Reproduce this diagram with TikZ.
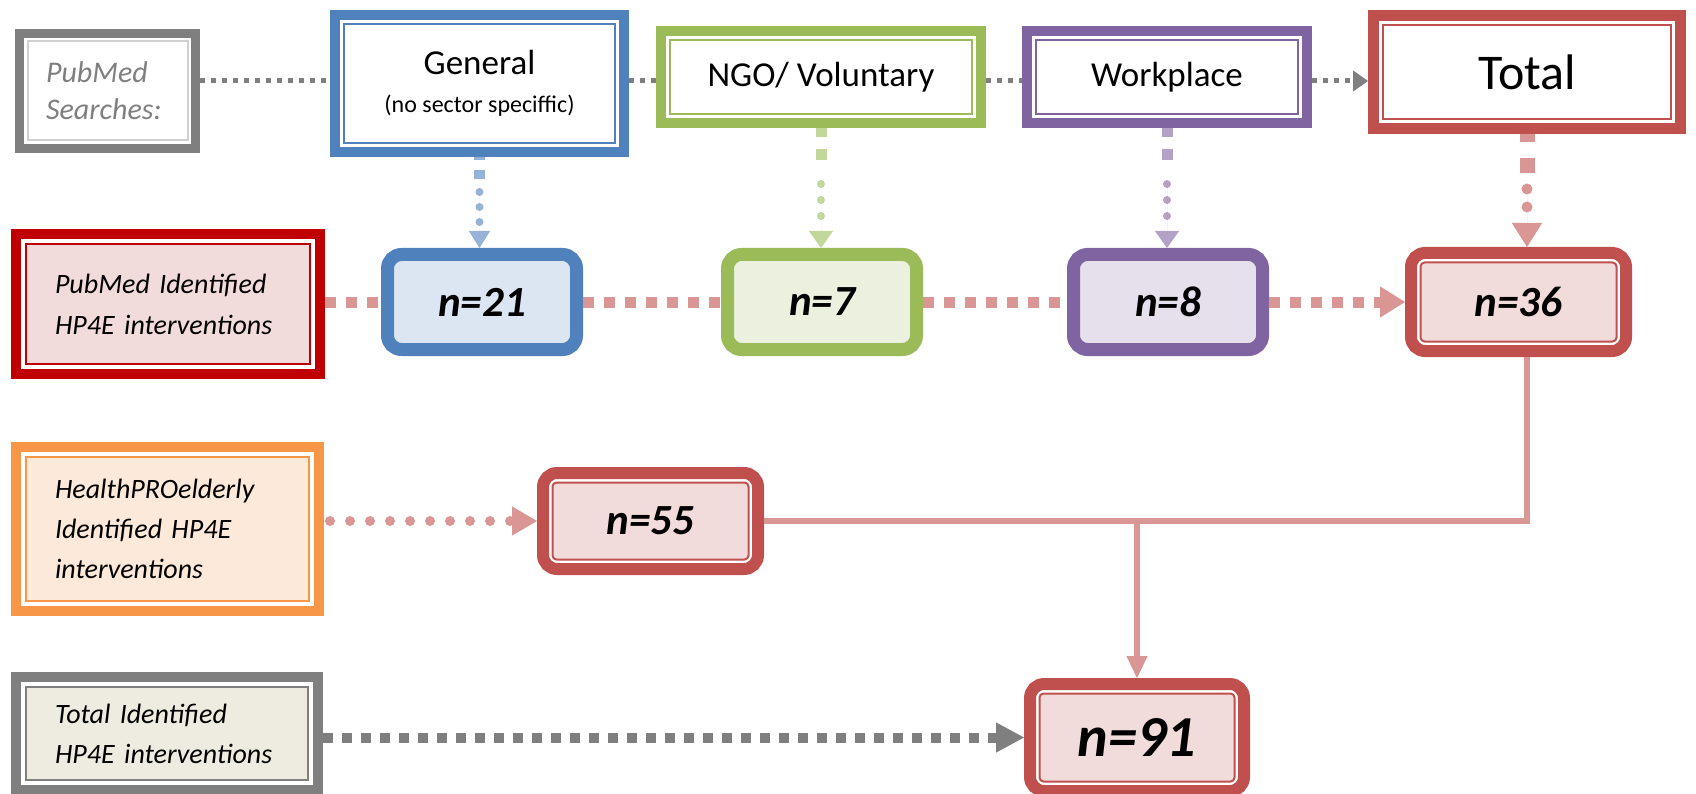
\documentclass[tikz,border=0pt]{standalone}
\usepackage{fontspec}
\setmainfont{Carlito}
\usetikzlibrary{arrows.meta,calc}
\definecolor{cblue}{HTML}{4F81BD}
\definecolor{cblueL}{HTML}{95B3D7}
\definecolor{cblueF}{HTML}{DCE6F2}
\definecolor{cgreen}{HTML}{9BBB59}
\definecolor{cgreenL}{HTML}{C3D69B}
\definecolor{cgreenF}{HTML}{EBF1DE}
\definecolor{cpurple}{HTML}{8064A2}
\definecolor{cpurpleL}{HTML}{B3A2C7}
\definecolor{cpurpleF}{HTML}{E5E0EC}
\definecolor{cred}{HTML}{C0504D}
\definecolor{cpinkL}{HTML}{D99694}
\definecolor{cpink}{HTML}{F2DCDB}
\definecolor{cdred}{HTML}{C00000}
\definecolor{corange}{HTML}{F79646}
\definecolor{corangeF}{HTML}{FDE9D9}
\definecolor{cgray}{HTML}{7F7F7F}
\definecolor{cgrayL}{HTML}{D0D0D0}
\definecolor{cbeige}{HTML}{EEECE1}
\tikzset{
  base/.style={rectangle, inner sep=0pt, align=center, text=black},
  dbox/.style n args={5}{base, draw=#1, line width=#2, fill=white,
    path picture={\filldraw[draw=#5, fill=#3, line width=2pt, sharp corners]
      ([shift={(#4,#4)}]path picture bounding box.south west) rectangle
      ([shift={(-#4,-#4)}]path picture bounding box.north east);}},
  nbox/.style n args={2}{base, rounded corners=14pt, draw=#1, line width=13pt, fill=#2,
    minimum width=189pt, minimum height=95pt,
    font=\fontsize{43}{50}\selectfont\bfseries\itshape},
  rdbox/.style={base, rounded corners=14pt, draw=cred, line width=12pt, fill=white,
    font=\fontsize{43}{50}\selectfont\bfseries\itshape,
    path picture={\filldraw[draw=cred, fill=cpink, line width=2pt, rounded corners=4pt]
      ([shift={(9.5pt,9.5pt)}]path picture bounding box.south west) rectangle
      ([shift={(-9.5pt,-9.5pt)}]path picture bounding box.north east);}},
  gdot/.style={draw=cgray, line width=5pt, dash pattern=on 5pt off 6pt},
  pdash/.style={draw=cpinkL, line width=11pt, dash pattern=on 11pt off 10pt},
}
\begin{document}
\begin{tikzpicture}[x=1pt,y=-1pt]
\useasboundingbox (0,0) rectangle (1696,794);
\coordinate (r1) at (0,81);

% row 1
\node[dbox={cgray}{9pt}{white}{8pt}{cgrayL}, minimum width=176pt, minimum height=115pt,
  text width=123pt, align=left, text=cgray, font=\fontsize{30}{37}\selectfont\itshape]
  (ps) at (107.5,91) {PubMed\\Searches:};
\node[dbox={cblue}{10pt}{white}{9pt}{cblue}, minimum width=289pt, minimum height=137pt,
  font=\fontsize{35}{38}\selectfont]
  (gen) at (479.5,83.5) {General\\{\fontsize{24}{38}\selectfont (no sector speciffic)}};
\node[dbox={cgreen}{10pt}{white}{9pt}{cgreen}, minimum width=320pt, minimum height=92pt,
  font=\fontsize{35}{42}\selectfont] (ngo) at (821,77) {NGO/ Voluntary};
\node[dbox={cpurple}{10pt}{white}{9pt}{cpurple}, minimum width=280pt, minimum height=92pt,
  font=\fontsize{35}{42}\selectfont] (wp) at (1167,77) {Workplace};
\node[dbox={cred}{11pt}{white}{9.5pt}{cred}, minimum width=307pt, minimum height=113pt,
  font=\fontsize{50}{60}\selectfont] (tot) at (1527,72) {Total};

% row 2
\node[dbox={cdred}{10pt}{cpink}{10pt}{cdred}, minimum width=304pt, minimum height=140pt,
  text width=226pt, align=left, font=\fontsize{28}{41}\selectfont\itshape]
  (pi) at (168,304) {PubMed Identified\\HP4E interventions};
\node[nbox={cblue}{cblueF}] (n21) at (482,302) {n=21};
\node[nbox={cgreen}{cgreenF}] (n7) at (822,302) {n=7};
\node[nbox={cpurple}{cpurpleF}] (n8) at (1168,302) {n=8};
\node[rdbox, minimum width=215pt, minimum height=98pt] (n36) at (1518.5,302) {n=36};

% row 3
\node[dbox={corange}{10pt}{corangeF}{10pt}{corange}, minimum width=303pt, minimum height=164pt,
  text width=225pt, align=left, font=\fontsize{28}{40}\selectfont\itshape]
  (hp) at (167.5,529) {HealthPROelderly\\Identified HP4E\\interventions};
\node[rdbox, minimum width=215pt, minimum height=96pt] (n55) at (650.5,521) {n=55};

% row 4
\node[dbox={cgray}{10pt}{cbeige}{10pt}{cgray}, minimum width=302pt, minimum height=113pt,
  text width=224pt, align=left, font=\fontsize{28}{40}\selectfont\itshape]
  (ti) at (167,733.5) {Total Identified\\HP4E interventions};
\node[rdbox, minimum width=214pt, minimum height=107pt,
  font=\fontsize{58}{66}\selectfont\bfseries\itshape] (n91) at (1137,737.5) {n=91};

% top gray dotted connectors
\draw[gdot] (ps.east |- r1) -- (gen.west |- r1);
\draw[gdot] (gen.east |- r1) -- (ngo.west |- r1);
\draw[gdot] (ngo.east |- r1) -- (wp.west |- r1);
\draw[gdot, -{Triangle[length=15pt,width=21pt,line width=1pt]}] (wp.east |- r1) -- (tot.west |- r1);

% vertical connectors
\draw[draw=cblueL, fill=cblueL, line width=8pt, line cap=round, dash pattern=on 0pt off 15pt, shorten <=35pt,
  -{Triangle[length=17pt,width=21pt,line width=1pt]},
  preaction={draw=cblueL, line width=11pt, line cap=butt, dash pattern=on 3pt off 10pt on 9pt off 1000pt, shorten <=0pt, arrows=-}]
  (gen.south) -- (gen.south |- n21.north);
\draw[draw=cgreenL, fill=cgreenL, line width=8pt, line cap=round, dash pattern=on 0pt off 16pt, shorten <=56pt,
  -{Triangle[length=17pt,width=24pt,line width=1pt]},
  preaction={draw=cgreenL, line width=11pt, line cap=butt, dash pattern=on 9pt off 12pt on 11pt off 1000pt, shorten <=0pt, arrows=-}]
  (ngo.south) -- (ngo.south |- n7.north);
\draw[draw=cpurpleL, fill=cpurpleL, line width=8pt, line cap=round, dash pattern=on 0pt off 16pt, shorten <=56pt,
  -{Triangle[length=17pt,width=24pt,line width=1pt]},
  preaction={draw=cpurpleL, line width=11pt, line cap=butt, dash pattern=on 9pt off 12pt on 11pt off 1000pt, shorten <=0pt, arrows=-}]
  (wp.south) -- (wp.south |- n8.north);
\draw[draw=cpinkL, fill=cpinkL, line width=11pt, line cap=round, dash pattern=on 0pt off 18pt, shorten <=55pt,
  -{Triangle[length=24pt,width=30pt,line width=1pt]},
  preaction={draw=cpinkL, line width=15pt, line cap=butt, dash pattern=on 8pt off 16pt on 15pt off 1000pt, shorten <=0pt, arrows=-}]
  (tot.south) -- (tot.south |- n36.north);

% row 2 pink connectors
\draw[pdash] (pi.east |- n21.west) -- (n21.west);
\draw[pdash] (n21.east) -- (n7.west);
\draw[pdash] (n7.east) -- (n8.west);
\draw[pdash, -{Triangle[length=25pt,width=31pt,line width=1pt]}] (n8.east) -- (n36.west);

% row 3
\draw[cpinkL, line width=10pt, line cap=round, dash pattern=on 0pt off 20pt, shorten <=6pt,
  -{Triangle[length=25pt,width=29pt,line width=1pt]}] (hp.east |- n55.west) -- (n55.west);
\draw[cpinkL, line width=6pt] (n36.south -| tot.south) |- (n55.east);
\draw[cpinkL, line width=6pt, -{Triangle[length=22pt,width=21pt,line width=1pt]}]
  (n91.north |- n55.east) -- (n91.north);

% row 4
\draw[cgray, line width=10pt, dash pattern=on 10pt off 9pt,
  -{Triangle[length=28pt,width=30pt,line width=1pt]}] (ti.east |- n91.west) -- (n91.west);
\end{tikzpicture}
\end{document}
